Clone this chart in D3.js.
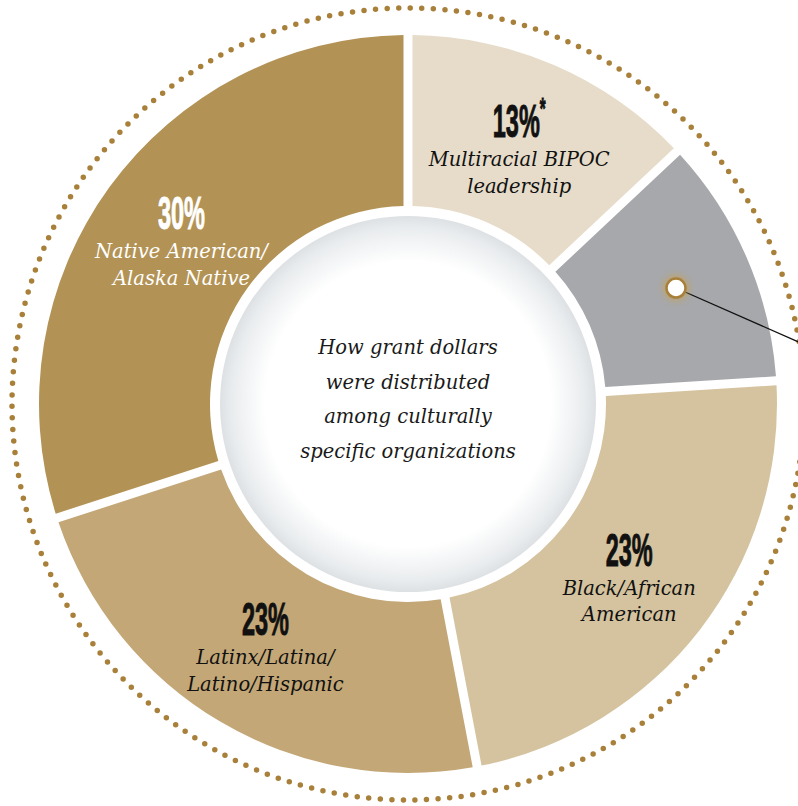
<!DOCTYPE html>
<html><head><meta charset="utf-8">
<script src="https://cdn.jsdelivr.net/npm/d3@7/dist/d3.min.js"></script>
<style>html,body{margin:0;padding:0;background:#fff;overflow:hidden}</style>
</head><body>
<svg id="chart" width="798" height="806"></svg>
<script>
const categories = ["Multiracial BIPOC leadership", "Other", "Black/African American", "Latinx/Latina/Latino/Hispanic", "Native American/Alaska Native"];
const values = [13, 11, 23, 23, 30];
const pctLabels = ["13%", "", "23%", "23%", "30%"];
const pctNotes = ["*", "", "", "", ""];
const nameLines = [["Multiracial BIPOC", "leadership"], [], ["Black/African", "American"], ["Latinx/Latina/", "Latino/Hispanic"], ["Native American/", "Alaska Native"]];
const colors = ["#e6dcc9", "#a7a8ab", "#d4c39e", "#c3a776", "#b39355"];
const textColors = ["#111", "#111", "#111", "#111", "#fff"];
const centerLines = ["How grant dollars", "were distributed", "among culturally", "specific organizations"];

const svg = d3.select("#chart");
const cx = 408, cy = 404;
const rOuter = 369, rInner = 198, rCenter = 188, rDots = 396, rLabel = 280;
const serif = "'DejaVu Serif', 'Liberation Serif', serif";
const g = svg.append("g").attr("transform", `translate(${cx},${cy})`);

const defs = svg.append("defs");
const rg = defs.append("radialGradient").attr("id", "centerGrad").attr("cx", "50%").attr("cy", "50%").attr("r", "50%");
rg.append("stop").attr("offset", "0%").attr("stop-color", "#ffffff");
rg.append("stop").attr("offset", "76%").attr("stop-color", "#ffffff");
rg.append("stop").attr("offset", "94%").attr("stop-color", "#e9ecee");
rg.append("stop").attr("offset", "100%").attr("stop-color", "#dde1e3");
const glow = defs.append("filter").attr("id", "glow").attr("x", "-100%").attr("y", "-100%").attr("width", "300%").attr("height", "300%");
glow.append("feGaussianBlur").attr("stdDeviation", 3);

// dotted outer ring
g.append("circle").attr("r", rDots).attr("fill", "none")
  .attr("stroke", "#a8803a").attr("stroke-width", 5.5)
  .attr("stroke-linecap", "round").attr("stroke-dasharray", "0 11.6");

const pie = d3.pie().value(d => d).sort(null);
const arcs = pie(values);
const arc = d3.arc().innerRadius(rInner).outerRadius(rOuter).padRadius(100).padAngle(0.09);

g.selectAll("path.slice").data(arcs).join("path").attr("class", "slice")
  .attr("d", arc).attr("fill", (d, i) => colors[i]);

// center disc
g.append("circle").attr("r", rCenter).attr("fill", "url(#centerGrad)");

g.append("g").selectAll("text").data(centerLines).join("text")
  .attr("x", 0).attr("y", (d, i) => -50 + i * 34.5)
  .attr("text-anchor", "middle")
  .attr("font-family", serif)
  .attr("font-style", "italic").attr("font-size", 19.5).attr("fill", "#1a1a1a")
  .text(d => d);

// labels
const labelArc = d3.arc().innerRadius(rLabel).outerRadius(rLabel);
arcs.forEach((a, i) => {
  if (!pctLabels[i]) return;
  const [x, y] = labelArc.centroid(a);
  const lg = g.append("g").attr("transform", `translate(${x},${y})`);
  const pg = lg.append("g").attr("transform", `translate(0,${-10}) scale(0.5,1)`);
  const t = pg.append("text").attr("text-anchor", "middle")
    .attr("font-family", "'Liberation Sans Narrow', 'Liberation Sans', Arial, sans-serif")
    .attr("font-weight", "bold").attr("font-size", 47).attr("fill", textColors[i])
    .attr("stroke", textColors[i]).attr("stroke-width", 1);
  t.append("tspan").text(pctLabels[i]);
  if (pctNotes[i]) t.append("tspan").attr("font-size", 30).attr("dy", -19).text(pctNotes[i]);
  nameLines[i].forEach((ln, j) => {
    lg.append("text").attr("x", 0).attr("y", 19 + j * 26.5)
      .attr("text-anchor", "middle")
      .attr("font-family", serif)
      .attr("font-style", "italic").attr("font-size", 19.5).attr("fill", textColors[i])
      .text(ln);
  });
});

// marker on the grey slice with leader line
const markArc = d3.arc().innerRadius(292).outerRadius(292);
const [mx, my] = markArc.centroid(arcs[1]);
g.append("line").attr("x1", mx).attr("y1", my).attr("x2", mx + 140).attr("y2", my + 140 * 0.44)
  .attr("stroke", "#111").attr("stroke-width", 1.2);
g.append("circle").attr("cx", mx).attr("cy", my).attr("r", 13).attr("fill", "#c9a04a").attr("opacity", 0.6).attr("filter", "url(#glow)");
g.append("circle").attr("cx", mx).attr("cy", my).attr("r", 9.5).attr("fill", "#fff")
  .attr("stroke", "#a8803a").attr("stroke-width", 2.5);
</script>
</body></html>
